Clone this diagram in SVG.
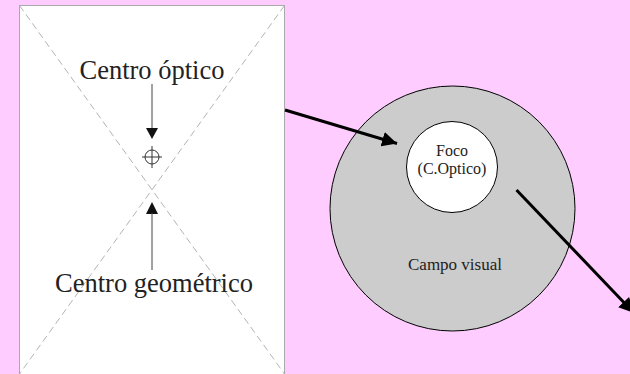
<svg xmlns="http://www.w3.org/2000/svg" width="630" height="374" viewBox="0 0 630 374">
<defs>
<style>
.lbl{font-family:"Liberation Serif","Times New Roman",serif;fill:#222;text-anchor:middle}
.big{font-size:26.5px}
.sm{font-size:17px}
.fc{font-size:16px}
.diag{stroke:#b4b4b4;stroke-width:1;stroke-dasharray:7,4;fill:none}
.thin{stroke:#444;stroke-width:1;fill:none}
.conn{stroke:#000;stroke-width:3;fill:none}
</style>
<marker id="ah" viewBox="0 0 10 10" refX="10" refY="5" markerWidth="5" markerHeight="5" markerUnits="strokeWidth" orient="auto">
<path d="M0,0 L10,5 L0,10 z" fill="#000"/>
</marker>
</defs>
<rect x="0" y="0" width="630" height="374" fill="#ffccff"/>
<g id="photo">
<rect x="19.5" y="5.5" width="265" height="372" fill="#fff" stroke="#aaa" stroke-width="1"/>
<line class="diag" x1="19.5" y1="5.5" x2="284.5" y2="374"/>
<line class="diag" x1="284.5" y1="5.5" x2="19.5" y2="374"/>
<text class="lbl big" x="152" y="79">Centro óptico</text>
<line class="thin" x1="152" y1="84" x2="152" y2="130"/>
<path d="M146,128 L158,128 L152,139 z" fill="#111"/>
<g id="crosshair" stroke="#333" stroke-width="1" fill="none">
<circle cx="152" cy="157" r="7"/>
<line x1="142" y1="157" x2="162" y2="157"/>
<line x1="152" y1="146" x2="152" y2="168"/>
</g>
<path d="M146,214 L158,214 L152,202 z" fill="#111"/>
<line class="thin" x1="152" y1="213" x2="152" y2="270"/>
<text class="lbl big" x="154" y="292">Centro geométrico</text>
</g>
<g id="campo">
<circle cx="452.5" cy="208.5" r="122.5" fill="#cccccc" stroke="#000" stroke-width="1"/>
<text class="lbl sm" x="455" y="270">Campo visual</text>
</g>
<g id="foco">
<circle cx="452" cy="167" r="45.5" fill="#fff" stroke="#000" stroke-width="1"/>
<text class="lbl fc" x="452" y="155.5">Foco</text>
<text class="lbl fc" x="452" y="174">(C.Optico)</text>
</g>
<g id="connectors">
<line class="conn" x1="285" y1="110" x2="397" y2="143.5" marker-end="url(#ah)"/>
<line class="conn" x1="516.5" y1="190" x2="634" y2="313" marker-end="url(#ah)"/>
</g>
</svg>
